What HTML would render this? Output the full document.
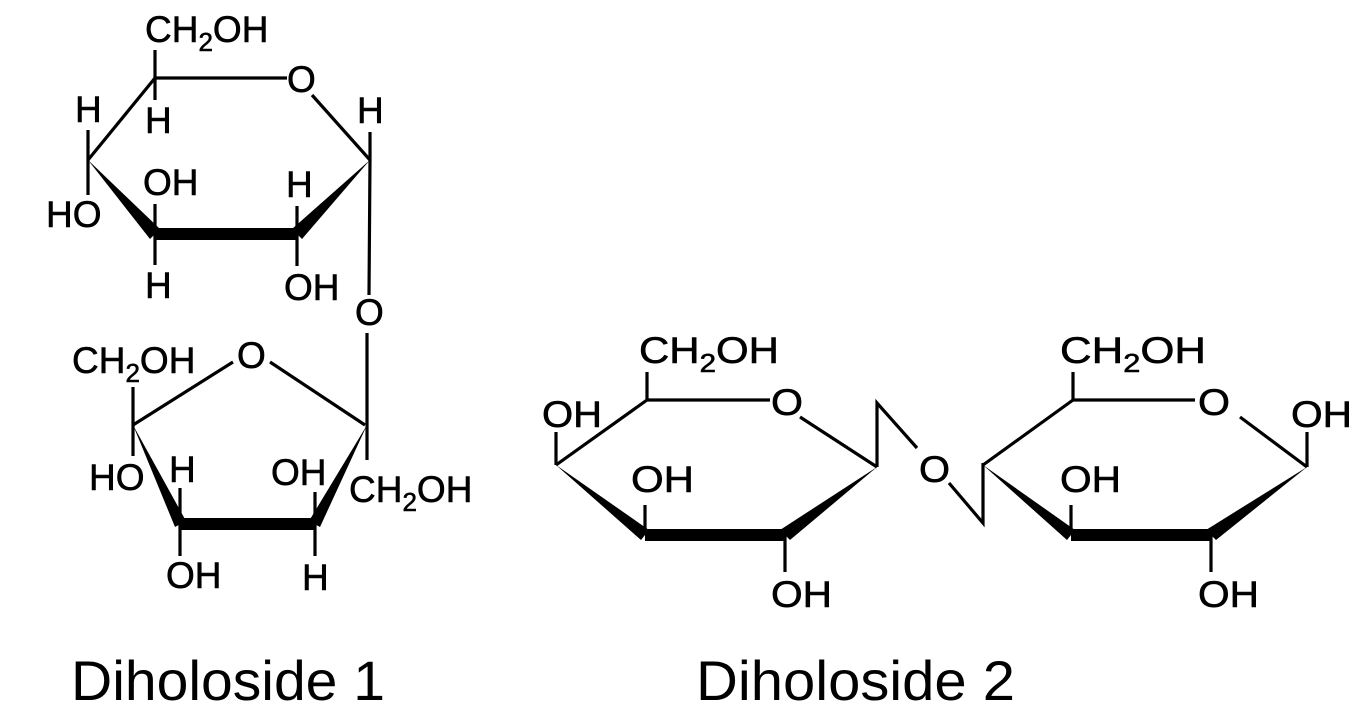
<!DOCTYPE html>
<html><head><meta charset="utf-8"><style>
html,body{margin:0;padding:0;background:#fff;}
svg{display:block;}
text{font-family:"Liberation Sans",Arial,sans-serif;fill:#000;}
.a{font-size:37px;stroke:#000;stroke-width:0.6px;}
.s{font-size:26px;}
.b{font-size:56px;}
line,polyline{stroke:#000;stroke-width:3.2;fill:none;stroke-linecap:butt;}
</style></head><body>
<svg width="1372" height="720" viewBox="0 0 1372 720" xmlns="http://www.w3.org/2000/svg">
<!-- ===== Diholoside 1, top pyranose ===== -->
<line x1="155" y1="78" x2="287" y2="78"/>
<line x1="312" y1="95" x2="370" y2="160"/>
<line x1="155" y1="78" x2="88" y2="160"/>
<polygon points="88,160 150,239 160,229" fill="#000"/>
<polygon points="155,228 297,228 297,240 155,240" fill="#000"/>
<polygon points="292,229 302,239 370,160" fill="#000"/>
<line x1="155" y1="78" x2="155" y2="50"/>
<line x1="155" y1="78" x2="155" y2="100"/>
<line x1="88" y1="160" x2="88" y2="130"/>
<line x1="88" y1="160" x2="88" y2="195"/>
<line x1="155" y1="234" x2="155" y2="204"/>
<line x1="155" y1="234" x2="155" y2="265"/>
<line x1="297" y1="234" x2="297" y2="206"/>
<line x1="297" y1="234" x2="297" y2="266"/>
<line x1="370" y1="160" x2="370" y2="132"/>
<line x1="370" y1="160" x2="369" y2="295"/>
<text class="a" x="145" y="42">CH<tspan class="s" dy="9">2</tspan><tspan dy="-9">OH</tspan></text>
<text class="a" x="287" y="92">O</text>
<text class="a" x="145" y="133">H</text>
<text class="a" x="75" y="122">H</text>
<text class="a" x="46" y="227">HO</text>
<text class="a" x="143" y="195">OH</text>
<text class="a" x="286" y="197">H</text>
<text class="a" x="145" y="298">H</text>
<text class="a" x="284" y="300">OH</text>
<text class="a" x="357" y="123">H</text>
<text class="a" x="355" y="325">O</text>
<!-- ===== Diholoside 1, bottom furanose ===== -->
<line x1="367" y1="333" x2="367" y2="425"/>
<line x1="133" y1="425" x2="233" y2="362"/>
<line x1="270" y1="362" x2="365" y2="425"/>
<polygon points="133,425 175,527 186,521" fill="#000"/>
<polygon points="180,518 315,518 315,530 180,530" fill="#000"/>
<polygon points="309,521 320,527 367,425" fill="#000"/>
<line x1="133" y1="425" x2="133" y2="387"/>
<line x1="133" y1="425" x2="133" y2="456"/>
<line x1="180" y1="524" x2="180" y2="488"/>
<line x1="180" y1="524" x2="180" y2="556"/>
<line x1="315" y1="524" x2="315" y2="492"/>
<line x1="315" y1="524" x2="315" y2="556"/>
<line x1="367" y1="425" x2="367" y2="460"/>
<text class="a" x="72" y="373">CH<tspan class="s" dy="9">2</tspan><tspan dy="-9">OH</tspan></text>
<text class="a" x="237" y="368">O</text>
<text class="a" x="89" y="490">HO</text>
<text class="a" x="169" y="482">H</text>
<text class="a" x="271" y="485">OH</text>
<text class="a" x="349" y="502">CH<tspan class="s" dy="9">2</tspan><tspan dy="-9">OH</tspan></text>
<text class="a" x="166" y="588">OH</text>
<text class="a" x="302" y="590">H</text>
<!-- ===== Diholoside 2, left ring ===== -->
<line x1="647" y1="400" x2="770" y2="400"/>
<line x1="800" y1="417" x2="877" y2="467"/>
<line x1="647" y1="400" x2="556" y2="465"/>
<polygon points="556,465 641,540 649,530" fill="#000"/>
<polygon points="645,529 785,529 785,541 645,541" fill="#000"/>
<polygon points="780,530 790,540 877,467" fill="#000"/>
<line x1="647" y1="400" x2="647" y2="372"/>
<line x1="556" y1="465" x2="556" y2="432"/>
<line x1="645" y1="535" x2="645" y2="505"/>
<line x1="785" y1="535" x2="785" y2="572"/>
<polyline points="877,467 877,403 917,448"/>
<polyline points="949,483 983,523 983,463"/>
<text class="a" x="639" y="363" textLength="140" lengthAdjust="spacingAndGlyphs">CH<tspan class="s" dy="9">2</tspan><tspan dy="-9">OH</tspan></text>
<text class="a" x="771" y="415" textLength="32" lengthAdjust="spacingAndGlyphs">O</text>
<text class="a" x="542" y="427" textLength="60" lengthAdjust="spacingAndGlyphs">OH</text>
<text class="a" x="631" y="492" textLength="63" lengthAdjust="spacingAndGlyphs">OH</text>
<text class="a" x="771" y="607" textLength="61" lengthAdjust="spacingAndGlyphs">OH</text>
<text class="a" x="919" y="482" textLength="31" lengthAdjust="spacingAndGlyphs">O</text>
<!-- ===== Diholoside 2, right ring ===== -->
<line x1="983" y1="465" x2="1073" y2="400"/>
<line x1="1073" y1="400" x2="1195" y2="400"/>
<line x1="1240" y1="417" x2="1307" y2="467"/>
<polygon points="983,465 1067,540 1075,530" fill="#000"/>
<polygon points="1071,529 1211,529 1211,541 1071,541" fill="#000"/>
<polygon points="1206,530 1216,540 1307,467" fill="#000"/>
<line x1="1073" y1="400" x2="1073" y2="372"/>
<line x1="1307" y1="467" x2="1307" y2="432"/>
<line x1="1071" y1="535" x2="1071" y2="505"/>
<line x1="1211" y1="535" x2="1211" y2="572"/>
<text class="a" x="1060" y="363" textLength="146" lengthAdjust="spacingAndGlyphs">CH<tspan class="s" dy="9">2</tspan><tspan dy="-9">OH</tspan></text>
<text class="a" x="1198" y="415" textLength="32" lengthAdjust="spacingAndGlyphs">O</text>
<text class="a" x="1291" y="427" textLength="61" lengthAdjust="spacingAndGlyphs">OH</text>
<text class="a" x="1060" y="492" textLength="61" lengthAdjust="spacingAndGlyphs">OH</text>
<text class="a" x="1198" y="607" textLength="61" lengthAdjust="spacingAndGlyphs">OH</text>
<!-- captions -->
<text class="b" x="71" y="700" textLength="314" lengthAdjust="spacingAndGlyphs">Diholoside 1</text>
<text class="b" x="696" y="700" textLength="319" lengthAdjust="spacingAndGlyphs">Diholoside 2</text>
</svg>
</body></html>
